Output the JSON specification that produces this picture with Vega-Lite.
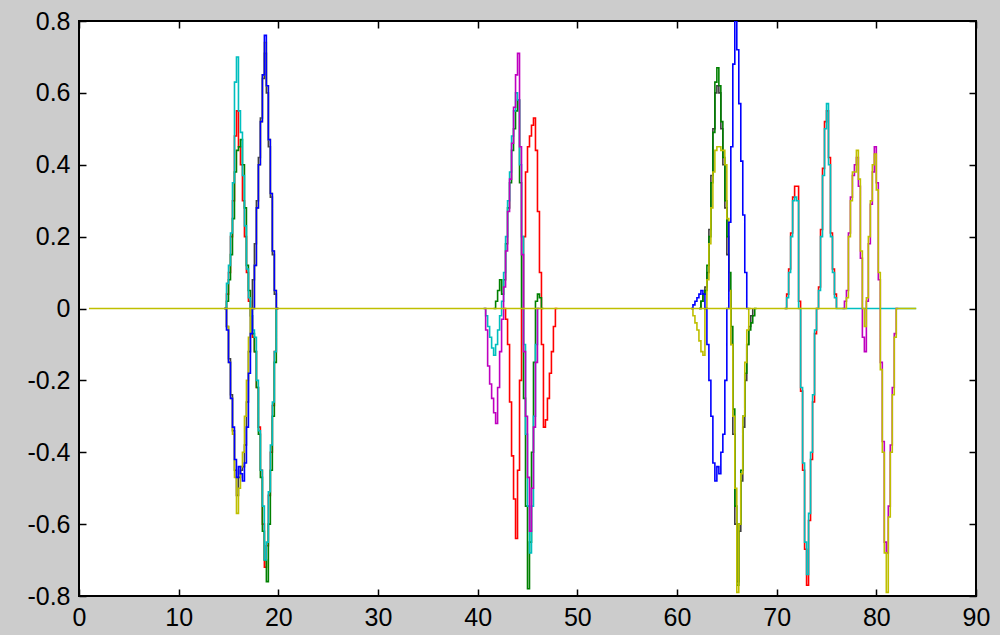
{
  "$schema": "https://vega.github.io/schema/vega-lite/v6.json",
  "autosize": {"type": "none"},
  "padding": {"left": 79, "top": 21, "right": 24, "bottom": 39},
  "width": 897,
  "height": 575,
  "background": "#cccccc",
  "config": {
    "view": {"fill": "white", "stroke": "#000000", "strokeWidth": 2},
    "axis": {"domain": false, "grid": false, "tickColor": "#000000", "tickSize": -7, "tickWidth": 1.5, "labelFont": "Liberation Sans", "labelFontSize": 25, "labelColor": "#000000", "title": null}
  },
  "data": {"values": [
    {"s":"b","g":1,"x":14.6,"y":0},{"s":"b","g":1,"x":14.8,"y":-0.06},{"s":"b","g":1,"x":15.0,"y":-0.15},{"s":"b","g":1,"x":15.2,"y":-0.25},{"s":"b","g":1,"x":15.4,"y":-0.33},{"s":"b","g":1,"x":15.6,"y":-0.42},{"s":"b","g":1,"x":15.8,"y":-0.47},{"s":"b","g":1,"x":16.0,"y":-0.44},{"s":"b","g":1,"x":16.2,"y":-0.46},{"s":"b","g":1,"x":16.4,"y":-0.48},{"s":"b","g":1,"x":16.6,"y":-0.43},{"s":"b","g":1,"x":16.8,"y":-0.33},{"s":"b","g":1,"x":17.0,"y":-0.18},{"s":"b","g":1,"x":17.2,"y":-0.07},{"s":"b","g":1,"x":17.4,"y":0.0},{"s":"b","g":1,"x":17.6,"y":0.12},{"s":"b","g":1,"x":17.8,"y":0.28},{"s":"b","g":1,"x":18.0,"y":0.40},{"s":"b","g":1,"x":18.2,"y":0.52},{"s":"b","g":1,"x":18.4,"y":0.65},{"s":"b","g":1,"x":18.6,"y":0.76},{"s":"b","g":1,"x":18.8,"y":0.62},{"s":"b","g":1,"x":19.0,"y":0.47},{"s":"b","g":1,"x":19.2,"y":0.32},{"s":"b","g":1,"x":19.4,"y":0.16},{"s":"b","g":1,"x":19.6,"y":0.05},{"s":"b","g":1,"x":19.8,"y":0},{"s":"b","g":1,"x":20.0,"y":0},
    {"s":"b","g":3,"x":61.4,"y":0},{"s":"b","g":3,"x":61.6,"y":0.01},{"s":"b","g":3,"x":61.8,"y":0.02},{"s":"b","g":3,"x":62.0,"y":0.03},{"s":"b","g":3,"x":62.2,"y":0.04},{"s":"b","g":3,"x":62.4,"y":0.05},{"s":"b","g":3,"x":62.6,"y":0.04},{"s":"b","g":3,"x":62.8,"y":0.0},{"s":"b","g":3,"x":63.0,"y":-0.1},{"s":"b","g":3,"x":63.2,"y":-0.2},{"s":"b","g":3,"x":63.4,"y":-0.3},{"s":"b","g":3,"x":63.6,"y":-0.43},{"s":"b","g":3,"x":63.8,"y":-0.48},{"s":"b","g":3,"x":64.0,"y":-0.44},{"s":"b","g":3,"x":64.2,"y":-0.46},{"s":"b","g":3,"x":64.4,"y":-0.40},{"s":"b","g":3,"x":64.6,"y":-0.35},{"s":"b","g":3,"x":64.8,"y":-0.2},{"s":"b","g":3,"x":65.0,"y":0.0},{"s":"b","g":3,"x":65.2,"y":0.24},{"s":"b","g":3,"x":65.4,"y":0.45},{"s":"b","g":3,"x":65.6,"y":0.68},{"s":"b","g":3,"x":65.8,"y":0.80},{"s":"b","g":3,"x":66.0,"y":0.72},{"s":"b","g":3,"x":66.2,"y":0.57},{"s":"b","g":3,"x":66.4,"y":0.41},{"s":"b","g":3,"x":66.6,"y":0.26},{"s":"b","g":3,"x":66.8,"y":0.10},{"s":"b","g":3,"x":67.0,"y":0},{"s":"b","g":3,"x":67.2,"y":0},

    {"s":"g","g":1,"x":14.6,"y":0},{"s":"g","g":1,"x":14.8,"y":0.02},{"s":"g","g":1,"x":15.0,"y":0.08},{"s":"g","g":1,"x":15.2,"y":0.15},{"s":"g","g":1,"x":15.4,"y":0.25},{"s":"g","g":1,"x":15.6,"y":0.38},{"s":"g","g":1,"x":15.8,"y":0.44},{"s":"g","g":1,"x":16.0,"y":0.45},{"s":"g","g":1,"x":16.2,"y":0.47},{"s":"g","g":1,"x":16.4,"y":0.40},{"s":"g","g":1,"x":16.6,"y":0.28},{"s":"g","g":1,"x":16.8,"y":0.12},{"s":"g","g":1,"x":17.0,"y":0.05},{"s":"g","g":1,"x":17.2,"y":0.0},{"s":"g","g":1,"x":17.4,"y":-0.07},{"s":"g","g":1,"x":17.6,"y":-0.12},{"s":"g","g":1,"x":17.8,"y":-0.22},{"s":"g","g":1,"x":18.0,"y":-0.35},{"s":"g","g":1,"x":18.2,"y":-0.47},{"s":"g","g":1,"x":18.4,"y":-0.62},{"s":"g","g":1,"x":18.6,"y":-0.70},{"s":"g","g":1,"x":18.8,"y":-0.76},{"s":"g","g":1,"x":19.0,"y":-0.60},{"s":"g","g":1,"x":19.2,"y":-0.45},{"s":"g","g":1,"x":19.4,"y":-0.30},{"s":"g","g":1,"x":19.6,"y":-0.15},{"s":"g","g":1,"x":19.8,"y":0},{"s":"g","g":1,"x":20.0,"y":0},
    {"s":"g","g":2,"x":41.6,"y":0},{"s":"g","g":2,"x":41.8,"y":0.02},{"s":"g","g":2,"x":42.0,"y":0.05},{"s":"g","g":2,"x":42.2,"y":0.08},{"s":"g","g":2,"x":42.4,"y":0.04},{"s":"g","g":2,"x":42.6,"y":0.08},{"s":"g","g":2,"x":42.8,"y":0.18},{"s":"g","g":2,"x":43.0,"y":0.28},{"s":"g","g":2,"x":43.2,"y":0.35},{"s":"g","g":2,"x":43.4,"y":0.44},{"s":"g","g":2,"x":43.6,"y":0.50},{"s":"g","g":2,"x":43.8,"y":0.55},{"s":"g","g":2,"x":44.0,"y":0.58},{"s":"g","g":2,"x":44.2,"y":0.35},{"s":"g","g":2,"x":44.4,"y":0.0},{"s":"g","g":2,"x":44.6,"y":-0.25},{"s":"g","g":2,"x":44.8,"y":-0.55},{"s":"g","g":2,"x":45.0,"y":-0.78},{"s":"g","g":2,"x":45.2,"y":-0.65},{"s":"g","g":2,"x":45.4,"y":-0.40},{"s":"g","g":2,"x":45.6,"y":-0.15},{"s":"g","g":2,"x":45.8,"y":0.02},{"s":"g","g":2,"x":46.0,"y":0.04},{"s":"g","g":2,"x":46.2,"y":0.03},{"s":"g","g":2,"x":46.4,"y":0},{"s":"g","g":2,"x":46.6,"y":0},
    {"s":"g","g":3,"x":62.2,"y":0},{"s":"g","g":3,"x":62.4,"y":0.02},{"s":"g","g":3,"x":62.6,"y":0.04},{"s":"g","g":3,"x":62.8,"y":0.05},{"s":"g","g":3,"x":63.0,"y":0.12},{"s":"g","g":3,"x":63.2,"y":0.2},{"s":"g","g":3,"x":63.4,"y":0.35},{"s":"g","g":3,"x":63.6,"y":0.49},{"s":"g","g":3,"x":63.8,"y":0.63},{"s":"g","g":3,"x":64.0,"y":0.67},{"s":"g","g":3,"x":64.2,"y":0.62},{"s":"g","g":3,"x":64.4,"y":0.52},{"s":"g","g":3,"x":64.6,"y":0.42},{"s":"g","g":3,"x":64.8,"y":0.3},{"s":"g","g":3,"x":65.0,"y":0.2},{"s":"g","g":3,"x":65.2,"y":0.1},{"s":"g","g":3,"x":65.4,"y":-0.05},{"s":"g","g":3,"x":65.6,"y":-0.28},{"s":"g","g":3,"x":65.8,"y":-0.55},{"s":"g","g":3,"x":66.0,"y":-0.77},{"s":"g","g":3,"x":66.2,"y":-0.6},{"s":"g","g":3,"x":66.4,"y":-0.45},{"s":"g","g":3,"x":66.6,"y":-0.3},{"s":"g","g":3,"x":66.8,"y":-0.18},{"s":"g","g":3,"x":67.0,"y":-0.1},{"s":"g","g":3,"x":67.2,"y":-0.06},{"s":"g","g":3,"x":67.4,"y":-0.04},{"s":"g","g":3,"x":67.6,"y":-0.02},{"s":"g","g":3,"x":67.8,"y":0},{"s":"g","g":3,"x":68.0,"y":0},

    {"s":"r","g":1,"x":14.6,"y":0},{"s":"r","g":1,"x":14.8,"y":0.04},{"s":"r","g":1,"x":15.0,"y":0.10},{"s":"r","g":1,"x":15.2,"y":0.2},{"s":"r","g":1,"x":15.4,"y":0.3},{"s":"r","g":1,"x":15.6,"y":0.48},{"s":"r","g":1,"x":15.8,"y":0.55},{"s":"r","g":1,"x":16.0,"y":0.45},{"s":"r","g":1,"x":16.2,"y":0.40},{"s":"r","g":1,"x":16.4,"y":0.30},{"s":"r","g":1,"x":16.6,"y":0.20},{"s":"r","g":1,"x":16.8,"y":0.10},{"s":"r","g":1,"x":17.0,"y":0.02},{"s":"r","g":1,"x":17.2,"y":-0.02},{"s":"r","g":1,"x":17.4,"y":-0.08},{"s":"r","g":1,"x":17.6,"y":-0.12},{"s":"r","g":1,"x":17.8,"y":-0.22},{"s":"r","g":1,"x":18.0,"y":-0.33},{"s":"r","g":1,"x":18.2,"y":-0.45},{"s":"r","g":1,"x":18.4,"y":-0.60},{"s":"r","g":1,"x":18.6,"y":-0.72},{"s":"r","g":1,"x":18.8,"y":-0.66},{"s":"r","g":1,"x":19.0,"y":-0.52},{"s":"r","g":1,"x":19.2,"y":-0.40},{"s":"r","g":1,"x":19.4,"y":-0.27},{"s":"r","g":1,"x":19.6,"y":-0.12},{"s":"r","g":1,"x":19.8,"y":0},{"s":"r","g":1,"x":20.0,"y":0},
    {"s":"r","g":2,"x":42.6,"y":0},{"s":"r","g":2,"x":42.8,"y":-0.03},{"s":"r","g":2,"x":43.0,"y":-0.1},{"s":"r","g":2,"x":43.2,"y":-0.26},{"s":"r","g":2,"x":43.4,"y":-0.41},{"s":"r","g":2,"x":43.6,"y":-0.53},{"s":"r","g":2,"x":43.8,"y":-0.64},{"s":"r","g":2,"x":44.0,"y":-0.45},{"s":"r","g":2,"x":44.2,"y":-0.2},{"s":"r","g":2,"x":44.4,"y":0.0},{"s":"r","g":2,"x":44.6,"y":0.2},{"s":"r","g":2,"x":44.8,"y":0.38},{"s":"r","g":2,"x":45.0,"y":0.45},{"s":"r","g":2,"x":45.2,"y":0.48},{"s":"r","g":2,"x":45.4,"y":0.51},{"s":"r","g":2,"x":45.6,"y":0.53},{"s":"r","g":2,"x":45.8,"y":0.44},{"s":"r","g":2,"x":46.0,"y":0.27},{"s":"r","g":2,"x":46.2,"y":0.1},{"s":"r","g":2,"x":46.4,"y":-0.1},{"s":"r","g":2,"x":46.6,"y":-0.33},{"s":"r","g":2,"x":46.8,"y":-0.31},{"s":"r","g":2,"x":47.0,"y":-0.25},{"s":"r","g":2,"x":47.2,"y":-0.18},{"s":"r","g":2,"x":47.4,"y":-0.12},{"s":"r","g":2,"x":47.6,"y":-0.05},{"s":"r","g":2,"x":47.8,"y":0},{"s":"r","g":2,"x":48.0,"y":0},
    {"s":"r","g":4,"x":70.8,"y":0},{"s":"r","g":4,"x":71.0,"y":0.04},{"s":"r","g":4,"x":71.2,"y":0.11},{"s":"r","g":4,"x":71.4,"y":0.21},{"s":"r","g":4,"x":71.6,"y":0.31},{"s":"r","g":4,"x":71.8,"y":0.34},{"s":"r","g":4,"x":72.0,"y":0.34},{"s":"r","g":4,"x":72.2,"y":0.02},{"s":"r","g":4,"x":72.4,"y":-0.23},{"s":"r","g":4,"x":72.6,"y":-0.45},{"s":"r","g":4,"x":72.8,"y":-0.67},{"s":"r","g":4,"x":73.0,"y":-0.77},{"s":"r","g":4,"x":73.2,"y":-0.59},{"s":"r","g":4,"x":73.4,"y":-0.42},{"s":"r","g":4,"x":73.6,"y":-0.26},{"s":"r","g":4,"x":73.8,"y":-0.07},{"s":"r","g":4,"x":74.0,"y":0.0},{"s":"r","g":4,"x":74.2,"y":0.06},{"s":"r","g":4,"x":74.4,"y":0.22},{"s":"r","g":4,"x":74.6,"y":0.39},{"s":"r","g":4,"x":74.8,"y":0.52},{"s":"r","g":4,"x":75.0,"y":0.55},{"s":"r","g":4,"x":75.2,"y":0.42},{"s":"r","g":4,"x":75.4,"y":0.21},{"s":"r","g":4,"x":75.6,"y":0.11},{"s":"r","g":4,"x":75.8,"y":0.04},{"s":"r","g":4,"x":76.0,"y":0},

    {"s":"c","g":1,"x":14.6,"y":0},{"s":"c","g":1,"x":14.8,"y":0.07},{"s":"c","g":1,"x":15.0,"y":0.12},{"s":"c","g":1,"x":15.2,"y":0.21},{"s":"c","g":1,"x":15.4,"y":0.35},{"s":"c","g":1,"x":15.6,"y":0.63},{"s":"c","g":1,"x":15.8,"y":0.70},{"s":"c","g":1,"x":16.0,"y":0.55},{"s":"c","g":1,"x":16.2,"y":0.49},{"s":"c","g":1,"x":16.4,"y":0.37},{"s":"c","g":1,"x":16.6,"y":0.23},{"s":"c","g":1,"x":16.8,"y":0.11},{"s":"c","g":1,"x":17.0,"y":0.03},{"s":"c","g":1,"x":17.2,"y":-0.02},{"s":"c","g":1,"x":17.4,"y":-0.06},{"s":"c","g":1,"x":17.6,"y":-0.08},{"s":"c","g":1,"x":17.8,"y":-0.2},{"s":"c","g":1,"x":18.0,"y":-0.34},{"s":"c","g":1,"x":18.2,"y":-0.45},{"s":"c","g":1,"x":18.4,"y":-0.55},{"s":"c","g":1,"x":18.6,"y":-0.70},{"s":"c","g":1,"x":18.8,"y":-0.65},{"s":"c","g":1,"x":19.0,"y":-0.51},{"s":"c","g":1,"x":19.2,"y":-0.38},{"s":"c","g":1,"x":19.4,"y":-0.26},{"s":"c","g":1,"x":19.6,"y":-0.12},{"s":"c","g":1,"x":19.8,"y":0},{"s":"c","g":1,"x":20.0,"y":0},
    {"s":"c","g":2,"x":40.6,"y":0},{"s":"c","g":2,"x":40.8,"y":-0.02},{"s":"c","g":2,"x":41.0,"y":-0.05},{"s":"c","g":2,"x":41.2,"y":-0.08},{"s":"c","g":2,"x":41.4,"y":-0.11},{"s":"c","g":2,"x":41.6,"y":-0.13},{"s":"c","g":2,"x":41.8,"y":-0.10},{"s":"c","g":2,"x":42.0,"y":-0.06},{"s":"c","g":2,"x":42.2,"y":-0.02},{"s":"c","g":2,"x":42.4,"y":0.02},{"s":"c","g":2,"x":42.6,"y":0.1},{"s":"c","g":2,"x":42.8,"y":0.2},{"s":"c","g":2,"x":43.0,"y":0.3},{"s":"c","g":2,"x":43.2,"y":0.38},{"s":"c","g":2,"x":43.4,"y":0.48},{"s":"c","g":2,"x":43.6,"y":0.55},{"s":"c","g":2,"x":43.8,"y":0.6},{"s":"c","g":2,"x":44.0,"y":0.58},{"s":"c","g":2,"x":44.2,"y":0.40},{"s":"c","g":2,"x":44.4,"y":0.2},{"s":"c","g":2,"x":44.6,"y":-0.1},{"s":"c","g":2,"x":44.8,"y":-0.35},{"s":"c","g":2,"x":45.0,"y":-0.55},{"s":"c","g":2,"x":45.2,"y":-0.68},{"s":"c","g":2,"x":45.4,"y":-0.55},{"s":"c","g":2,"x":45.6,"y":-0.30},{"s":"c","g":2,"x":45.8,"y":-0.1},{"s":"c","g":2,"x":46.0,"y":0},{"s":"c","g":2,"x":46.2,"y":0},
    {"s":"c","g":4,"x":70.8,"y":0},{"s":"c","g":4,"x":71.0,"y":0.03},{"s":"c","g":4,"x":71.2,"y":0.1},{"s":"c","g":4,"x":71.4,"y":0.2},{"s":"c","g":4,"x":71.6,"y":0.3},{"s":"c","g":4,"x":71.8,"y":0.31},{"s":"c","g":4,"x":72.0,"y":0.3},{"s":"c","g":4,"x":72.2,"y":0.0},{"s":"c","g":4,"x":72.4,"y":-0.22},{"s":"c","g":4,"x":72.6,"y":-0.43},{"s":"c","g":4,"x":72.8,"y":-0.65},{"s":"c","g":4,"x":73.0,"y":-0.74},{"s":"c","g":4,"x":73.2,"y":-0.57},{"s":"c","g":4,"x":73.4,"y":-0.4},{"s":"c","g":4,"x":73.6,"y":-0.24},{"s":"c","g":4,"x":73.8,"y":-0.06},{"s":"c","g":4,"x":74.0,"y":0.0},{"s":"c","g":4,"x":74.2,"y":0.05},{"s":"c","g":4,"x":74.4,"y":0.2},{"s":"c","g":4,"x":74.6,"y":0.37},{"s":"c","g":4,"x":74.8,"y":0.5},{"s":"c","g":4,"x":75.0,"y":0.57},{"s":"c","g":4,"x":75.2,"y":0.4},{"s":"c","g":4,"x":75.4,"y":0.2},{"s":"c","g":4,"x":75.6,"y":0.1},{"s":"c","g":4,"x":75.8,"y":0.03},{"s":"c","g":4,"x":76.0,"y":0},{"s":"c","g":4,"x":84.0,"y":0},

    {"s":"m","g":2,"x":40.6,"y":0},{"s":"m","g":2,"x":40.8,"y":-0.06},{"s":"m","g":2,"x":41.0,"y":-0.16},{"s":"m","g":2,"x":41.2,"y":-0.21},{"s":"m","g":2,"x":41.4,"y":-0.25},{"s":"m","g":2,"x":41.6,"y":-0.29},{"s":"m","g":2,"x":41.8,"y":-0.32},{"s":"m","g":2,"x":42.0,"y":-0.22},{"s":"m","g":2,"x":42.2,"y":-0.12},{"s":"m","g":2,"x":42.4,"y":-0.03},{"s":"m","g":2,"x":42.6,"y":0.06},{"s":"m","g":2,"x":42.8,"y":0.16},{"s":"m","g":2,"x":43.0,"y":0.27},{"s":"m","g":2,"x":43.2,"y":0.36},{"s":"m","g":2,"x":43.4,"y":0.46},{"s":"m","g":2,"x":43.6,"y":0.56},{"s":"m","g":2,"x":43.8,"y":0.65},{"s":"m","g":2,"x":44.0,"y":0.71},{"s":"m","g":2,"x":44.2,"y":0.45},{"s":"m","g":2,"x":44.4,"y":0.15},{"s":"m","g":2,"x":44.6,"y":-0.12},{"s":"m","g":2,"x":44.8,"y":-0.30},{"s":"m","g":2,"x":45.0,"y":-0.47},{"s":"m","g":2,"x":45.2,"y":-0.62},{"s":"m","g":2,"x":45.4,"y":-0.5},{"s":"m","g":2,"x":45.6,"y":-0.33},{"s":"m","g":2,"x":45.8,"y":-0.15},{"s":"m","g":2,"x":46.0,"y":0},{"s":"m","g":2,"x":46.2,"y":0},
    {"s":"m","g":5,"x":76.6,"y":0},{"s":"m","g":5,"x":76.8,"y":0.02},{"s":"m","g":5,"x":77.0,"y":0.05},{"s":"m","g":5,"x":77.2,"y":0.21},{"s":"m","g":5,"x":77.4,"y":0.31},{"s":"m","g":5,"x":77.6,"y":0.37},{"s":"m","g":5,"x":77.8,"y":0.40},{"s":"m","g":5,"x":78.0,"y":0.42},{"s":"m","g":5,"x":78.2,"y":0.34},{"s":"m","g":5,"x":78.4,"y":0.14},{"s":"m","g":5,"x":78.6,"y":-0.08},{"s":"m","g":5,"x":78.8,"y":-0.12},{"s":"m","g":5,"x":79.0,"y":0.02},{"s":"m","g":5,"x":79.2,"y":0.18},{"s":"m","g":5,"x":79.4,"y":0.29},{"s":"m","g":5,"x":79.6,"y":0.38},{"s":"m","g":5,"x":79.8,"y":0.45},{"s":"m","g":5,"x":80.0,"y":0.35},{"s":"m","g":5,"x":80.2,"y":0.08},{"s":"m","g":5,"x":80.4,"y":-0.15},{"s":"m","g":5,"x":80.6,"y":-0.37},{"s":"m","g":5,"x":80.8,"y":-0.65},{"s":"m","g":5,"x":81.0,"y":-0.68},{"s":"m","g":5,"x":81.2,"y":-0.55},{"s":"m","g":5,"x":81.4,"y":-0.38},{"s":"m","g":5,"x":81.6,"y":-0.22},{"s":"m","g":5,"x":81.8,"y":-0.07},{"s":"m","g":5,"x":82.0,"y":0},{"s":"m","g":5,"x":82.2,"y":0},

    {"s":"y1","g":1,"x":14.6,"y":0},{"s":"y1","g":1,"x":14.8,"y":-0.05},{"s":"y1","g":1,"x":15.0,"y":-0.15},{"s":"y1","g":1,"x":15.2,"y":-0.25},{"s":"y1","g":1,"x":15.4,"y":-0.35},{"s":"y1","g":1,"x":15.6,"y":-0.47},{"s":"y1","g":1,"x":15.8,"y":-0.57},{"s":"y1","g":1,"x":16.0,"y":-0.50},{"s":"y1","g":1,"x":16.2,"y":-0.44},{"s":"y1","g":1,"x":16.4,"y":-0.40},{"s":"y1","g":1,"x":16.6,"y":-0.30},{"s":"y1","g":1,"x":16.8,"y":-0.20},{"s":"y1","g":1,"x":17.0,"y":-0.08},{"s":"y1","g":1,"x":17.2,"y":0.0},{"s":"y1","g":1,"x":17.4,"y":0.0},{"s":"y1","g":1,"x":17.6,"y":0.12},{"s":"y1","g":1,"x":17.8,"y":0.28},{"s":"y1","g":1,"x":18.0,"y":0.40},{"s":"y1","g":1,"x":18.2,"y":0.52},{"s":"y1","g":1,"x":18.4,"y":0.65},{"s":"y1","g":1,"x":18.6,"y":0.74},{"s":"y1","g":1,"x":18.8,"y":0.62},{"s":"y1","g":1,"x":19.0,"y":0.47},{"s":"y1","g":1,"x":19.2,"y":0.32},{"s":"y1","g":1,"x":19.4,"y":0.16},{"s":"y1","g":1,"x":19.6,"y":0.05},{"s":"y1","g":1,"x":19.8,"y":0},{"s":"y1","g":1,"x":20.0,"y":0},
    {"s":"y1","g":3,"x":61.4,"y":0},{"s":"y1","g":3,"x":61.6,"y":-0.02},{"s":"y1","g":3,"x":61.8,"y":-0.04},{"s":"y1","g":3,"x":62.0,"y":-0.06},{"s":"y1","g":3,"x":62.2,"y":-0.09},{"s":"y1","g":3,"x":62.4,"y":-0.12},{"s":"y1","g":3,"x":62.6,"y":-0.13},{"s":"y1","g":3,"x":62.8,"y":0.0},{"s":"y1","g":3,"x":63.0,"y":0.08},{"s":"y1","g":3,"x":63.2,"y":0.18},{"s":"y1","g":3,"x":63.4,"y":0.28},{"s":"y1","g":3,"x":63.6,"y":0.38},{"s":"y1","g":3,"x":63.8,"y":0.44},{"s":"y1","g":3,"x":64.0,"y":0.45},{"s":"y1","g":3,"x":64.2,"y":0.45},{"s":"y1","g":3,"x":64.4,"y":0.44},{"s":"y1","g":3,"x":64.6,"y":0.44},{"s":"y1","g":3,"x":64.8,"y":0.40},{"s":"y1","g":3,"x":65.0,"y":0.25},{"s":"y1","g":3,"x":65.2,"y":0.05},{"s":"y1","g":3,"x":65.4,"y":-0.1},{"s":"y1","g":3,"x":65.6,"y":-0.3},{"s":"y1","g":3,"x":65.8,"y":-0.5},{"s":"y1","g":3,"x":66.0,"y":-0.79},{"s":"y1","g":3,"x":66.2,"y":-0.6},{"s":"y1","g":3,"x":66.4,"y":-0.46},{"s":"y1","g":3,"x":66.6,"y":-0.3},{"s":"y1","g":3,"x":66.8,"y":-0.15},{"s":"y1","g":3,"x":67.0,"y":-0.06},{"s":"y1","g":3,"x":67.2,"y":0},{"s":"y1","g":3,"x":67.4,"y":0},

    {"s":"k","g":1,"x":14.6,"y":0},{"s":"k","g":1,"x":14.8,"y":-0.05},{"s":"k","g":1,"x":15.0,"y":-0.14},{"s":"k","g":1,"x":15.2,"y":-0.24},{"s":"k","g":1,"x":15.4,"y":-0.34},{"s":"k","g":1,"x":15.6,"y":-0.45},{"s":"k","g":1,"x":15.8,"y":-0.52},{"s":"k","g":1,"x":16.0,"y":-0.47},{"s":"k","g":1,"x":16.2,"y":-0.45},{"s":"k","g":1,"x":16.4,"y":-0.44},{"s":"k","g":1,"x":16.6,"y":-0.38},{"s":"k","g":1,"x":16.8,"y":-0.26},{"s":"k","g":1,"x":17.0,"y":-0.12},{"s":"k","g":1,"x":17.2,"y":0},{"s":"k","g":1,"x":17.4,"y":0.08},{"s":"k","g":1,"x":17.6,"y":0.18},{"s":"k","g":1,"x":17.8,"y":0.3},{"s":"k","g":1,"x":18.0,"y":0.42},{"s":"k","g":1,"x":18.2,"y":0.53},{"s":"k","g":1,"x":18.4,"y":0.64},{"s":"k","g":1,"x":18.6,"y":0.71},{"s":"k","g":1,"x":18.8,"y":0.6},{"s":"k","g":1,"x":19.0,"y":0.45},{"s":"k","g":1,"x":19.2,"y":0.31},{"s":"k","g":1,"x":19.4,"y":0.15},{"s":"k","g":1,"x":19.6,"y":0.04},{"s":"k","g":1,"x":19.8,"y":0},
    {"s":"k","g":3,"x":62.2,"y":0},{"s":"k","g":3,"x":62.4,"y":0.02},{"s":"k","g":3,"x":62.6,"y":0.04},{"s":"k","g":3,"x":62.8,"y":0.06},{"s":"k","g":3,"x":63.0,"y":0.1},{"s":"k","g":3,"x":63.2,"y":0.22},{"s":"k","g":3,"x":63.4,"y":0.37},{"s":"k","g":3,"x":63.6,"y":0.5},{"s":"k","g":3,"x":63.8,"y":0.6},{"s":"k","g":3,"x":64.0,"y":0.62},{"s":"k","g":3,"x":64.2,"y":0.6},{"s":"k","g":3,"x":64.4,"y":0.5},{"s":"k","g":3,"x":64.6,"y":0.4},{"s":"k","g":3,"x":64.8,"y":0.28},{"s":"k","g":3,"x":65.0,"y":0.15},{"s":"k","g":3,"x":65.2,"y":0.05},{"s":"k","g":3,"x":65.4,"y":-0.1},{"s":"k","g":3,"x":65.6,"y":-0.35},{"s":"k","g":3,"x":65.8,"y":-0.6},{"s":"k","g":3,"x":66.0,"y":-0.76},{"s":"k","g":3,"x":66.2,"y":-0.62},{"s":"k","g":3,"x":66.4,"y":-0.48},{"s":"k","g":3,"x":66.6,"y":-0.33},{"s":"k","g":3,"x":66.8,"y":-0.2},{"s":"k","g":3,"x":67.0,"y":-0.1},{"s":"k","g":3,"x":67.2,"y":-0.05},{"s":"k","g":3,"x":67.4,"y":-0.02},{"s":"k","g":3,"x":67.6,"y":0},

    {"s":"y2","g":5,"x":1.0,"y":0},{"s":"y2","g":5,"x":76.8,"y":0},{"s":"y2","g":5,"x":77.0,"y":0.03},{"s":"y2","g":5,"x":77.2,"y":0.2},{"s":"y2","g":5,"x":77.4,"y":0.3},{"s":"y2","g":5,"x":77.6,"y":0.38},{"s":"y2","g":5,"x":77.8,"y":0.38},{"s":"y2","g":5,"x":78.0,"y":0.44},{"s":"y2","g":5,"x":78.2,"y":0.36},{"s":"y2","g":5,"x":78.4,"y":0.16},{"s":"y2","g":5,"x":78.6,"y":0.0},{"s":"y2","g":5,"x":78.8,"y":-0.05},{"s":"y2","g":5,"x":79.0,"y":0.03},{"s":"y2","g":5,"x":79.2,"y":0.2},{"s":"y2","g":5,"x":79.4,"y":0.3},{"s":"y2","g":5,"x":79.6,"y":0.4},{"s":"y2","g":5,"x":79.8,"y":0.43},{"s":"y2","g":5,"x":80.0,"y":0.33},{"s":"y2","g":5,"x":80.2,"y":0.1},{"s":"y2","g":5,"x":80.4,"y":-0.17},{"s":"y2","g":5,"x":80.6,"y":-0.4},{"s":"y2","g":5,"x":80.8,"y":-0.68},{"s":"y2","g":5,"x":81.0,"y":-0.79},{"s":"y2","g":5,"x":81.2,"y":-0.58},{"s":"y2","g":5,"x":81.4,"y":-0.4},{"s":"y2","g":5,"x":81.6,"y":-0.24},{"s":"y2","g":5,"x":81.8,"y":-0.08},{"s":"y2","g":5,"x":82.0,"y":0},{"s":"y2","g":5,"x":84.0,"y":0}
  ]},
  "encoding": {
    "x": {"field": "x", "type": "quantitative", "scale": {"domain": [0, 90], "nice": false, "zero": false}, "axis": null},
    "y": {"field": "y", "type": "quantitative", "scale": {"domain": [-0.8, 0.8], "nice": false}, "axis": null},
    "detail": {"field": "g"}
  },
  "layer": [
    {
      "transform": [{"filter": "datum.s === 'k'"}],
      "mark": {"type": "line", "interpolate": "step-after", "color": "#404040", "strokeWidth": 1.6, "clip": true},
      "encoding": {
        "x": {"field": "x", "type": "quantitative", "scale": {"domain": [0, 90], "nice": false, "zero": false},
              "axis": {"orient": "bottom", "values": [0, 10, 20, 30, 40, 50, 60, 70, 80, 90], "labelPadding": 16, "labelFlush": false, "labelOverlap": false}},
        "y": {"field": "y", "type": "quantitative", "scale": {"domain": [-0.8, 0.8], "nice": false},
              "axis": {"orient": "left", "values": [-0.8, -0.6, -0.4, -0.2, 0, 0.2, 0.4, 0.6, 0.8], "labelExpr": "toString(datum.value)", "labelPadding": 16, "labelFlush": false, "labelOverlap": false}},
        "detail": {"field": "g"}
      }
    },
    {"transform": [{"filter": "datum.s === 'r'"}], "mark": {"type": "line", "interpolate": "step-after", "color": "#ff0000", "strokeWidth": 1.6, "clip": true}},
    {"transform": [{"filter": "datum.s === 'g'"}], "mark": {"type": "line", "interpolate": "step-after", "color": "#008000", "strokeWidth": 1.6, "clip": true}},
    {"transform": [{"filter": "datum.s === 'c'"}], "mark": {"type": "line", "interpolate": "step-after", "color": "#00bfbf", "strokeWidth": 1.6, "clip": true}},
    {"transform": [{"filter": "datum.s === 'm'"}], "mark": {"type": "line", "interpolate": "step-after", "color": "#bf00bf", "strokeWidth": 1.6, "clip": true}},
    {"transform": [{"filter": "datum.s === 'y1'"}], "mark": {"type": "line", "interpolate": "step-after", "color": "#bfbf00", "strokeWidth": 1.6, "clip": true}},
    {"transform": [{"filter": "datum.s === 'b'"}], "mark": {"type": "line", "interpolate": "step-after", "color": "#0000ff", "strokeWidth": 1.6, "clip": true}},
    {
      "transform": [{"filter": "datum.s === 'y2'"}],
      "mark": {"type": "line", "interpolate": "step-after", "color": "#bfbf00", "strokeWidth": 1.6, "clip": true},
      "encoding": {
        "x": {"field": "x", "type": "quantitative", "scale": {"domain": [0, 90], "nice": false, "zero": false},
              "axis": {"orient": "top", "values": [0, 10, 20, 30, 40, 50, 60, 70, 80, 90], "labels": false}},
        "y": {"field": "y", "type": "quantitative", "scale": {"domain": [-0.8, 0.8], "nice": false},
              "axis": {"orient": "right", "values": [-0.8, -0.6, -0.4, -0.2, 0, 0.2, 0.4, 0.6, 0.8], "labels": false}},
        "detail": {"field": "g"}
      }
    }
  ],
  "resolve": {"axis": {"x": "independent", "y": "independent"}}
}
